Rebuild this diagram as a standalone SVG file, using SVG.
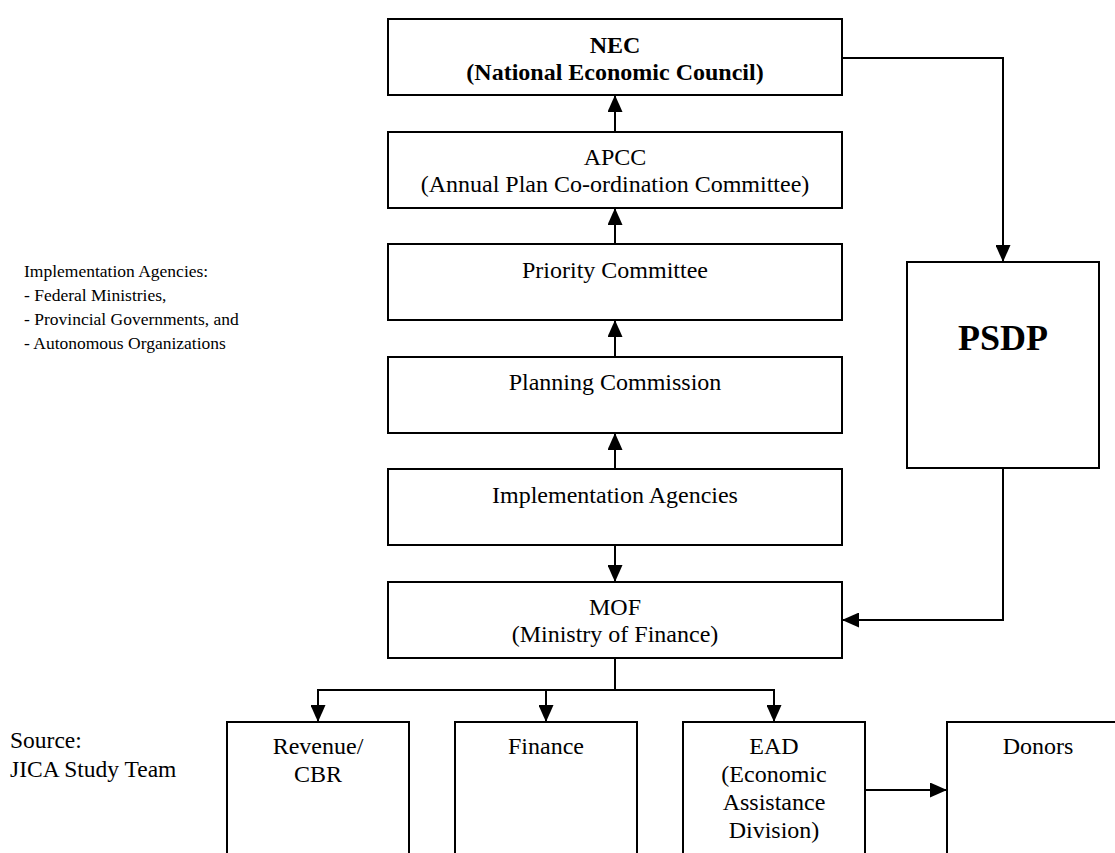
<svg xmlns="http://www.w3.org/2000/svg" width="1115" height="853" viewBox="0 0 1115 853">
  <style>
    .box { fill: #ffffff; stroke: #000000; stroke-width: 2; }
    .lbl { font-family: "Liberation Serif", "Times New Roman", serif; font-size: 24px; fill: #000000; text-anchor: middle; }
    .bold { font-weight: bold; }
    .big { font-size: 36px; }
    .note { font-family: "Liberation Serif", "Times New Roman", serif; fill: #000000; }
    .small { font-size: 17.5px; }
    .mid { font-size: 23.5px; }
    .wire { fill: none; stroke: #000000; stroke-width: 2; }
  </style>
  <defs>
    <marker id="arrow" markerUnits="userSpaceOnUse" markerWidth="17" markerHeight="15" refX="17" refY="7.5" orient="auto">
      <path d="M0,0 L17,7.5 L0,15 Z" fill="#000000"/>
    </marker>
  </defs>

  <rect width="1115" height="853" fill="#ffffff"/>

  <!-- side notes -->
  <g id="agencies-note" class="note small">
    <text x="24" y="277">Implementation Agencies:</text>
    <text x="24" y="301">- Federal Ministries,</text>
    <text x="24" y="325">- Provincial Governments, and</text>
    <text x="24" y="349">- Autonomous Organizations</text>
  </g>
  <g id="source-note" class="note mid">
    <text x="10" y="748">Source:</text>
    <text x="10" y="777">JICA Study Team</text>
  </g>

  <!-- connectors -->
  <g id="connectors">
    <line class="wire" x1="615" y1="132" x2="615" y2="95" marker-end="url(#arrow)"/>
    <line class="wire" x1="615" y1="244" x2="615" y2="208" marker-end="url(#arrow)"/>
    <line class="wire" x1="615" y1="357" x2="615" y2="320" marker-end="url(#arrow)"/>
    <line class="wire" x1="615" y1="469" x2="615" y2="433" marker-end="url(#arrow)"/>
    <line class="wire" x1="615" y1="545" x2="615" y2="582" marker-end="url(#arrow)"/>
    <polyline class="wire" points="842,58 1003,58 1003,262" marker-end="url(#arrow)"/>
    <polyline class="wire" points="1003,468 1003,620 842,620" marker-end="url(#arrow)"/>
    <line class="wire" x1="615" y1="658" x2="615" y2="690"/>
    <line class="wire" x1="317" y1="690" x2="775" y2="690"/>
    <line class="wire" x1="318" y1="690" x2="318" y2="722" marker-end="url(#arrow)"/>
    <line class="wire" x1="546" y1="690" x2="546" y2="722" marker-end="url(#arrow)"/>
    <line class="wire" x1="774" y1="690" x2="774" y2="722" marker-end="url(#arrow)"/>
    <line class="wire" x1="865" y1="790" x2="947" y2="790" marker-end="url(#arrow)"/>
  </g>

  <!-- main chain -->
  <g id="nec">
    <rect class="box" x="388" y="19" width="454" height="76"/>
    <text class="lbl bold" x="615" y="53">NEC</text>
    <text class="lbl bold" x="615" y="80">(National Economic Council)</text>
  </g>
  <g id="apcc">
    <rect class="box" x="388" y="132" width="454" height="76"/>
    <text class="lbl" x="615" y="165">APCC</text>
    <text class="lbl" x="615" y="192">(Annual Plan Co-ordination Committee)</text>
  </g>
  <g id="priority-committee">
    <rect class="box" x="388" y="244" width="454" height="76"/>
    <text class="lbl" x="615" y="278">Priority Committee</text>
  </g>
  <g id="planning-commission">
    <rect class="box" x="388" y="357" width="454" height="76"/>
    <text class="lbl" x="615" y="390">Planning Commission</text>
  </g>
  <g id="implementation-agencies">
    <rect class="box" x="388" y="469" width="454" height="76"/>
    <text class="lbl" x="615" y="503">Implementation Agencies</text>
  </g>
  <g id="mof">
    <rect class="box" x="388" y="582" width="454" height="76"/>
    <text class="lbl" x="615" y="615">MOF</text>
    <text class="lbl" x="615" y="642">(Ministry of Finance)</text>
  </g>

  <g id="psdp">
    <rect class="box" x="907" y="262" width="192" height="206"/>
    <text class="lbl bold big" x="1003" y="350">PSDP</text>
  </g>

  <!-- MOF divisions (run past the lower edge) -->
  <g id="revenue-cbr">
    <rect class="box" x="227" y="722" width="182" height="150"/>
    <text class="lbl" x="318" y="754">Revenue/</text>
    <text class="lbl" x="318" y="782">CBR</text>
  </g>
  <g id="finance">
    <rect class="box" x="455" y="722" width="182" height="150"/>
    <text class="lbl" x="546" y="754">Finance</text>
  </g>
  <g id="ead">
    <rect class="box" x="683" y="722" width="182" height="150"/>
    <text class="lbl" x="774" y="754">EAD</text>
    <text class="lbl" x="774" y="782">(Economic</text>
    <text class="lbl" x="774" y="810">Assistance</text>
    <text class="lbl" x="774" y="838">Division)</text>
  </g>
  <g id="donors">
    <rect class="box" x="947" y="722" width="182" height="150"/>
    <text class="lbl" x="1038" y="754">Donors</text>
  </g>
</svg>
